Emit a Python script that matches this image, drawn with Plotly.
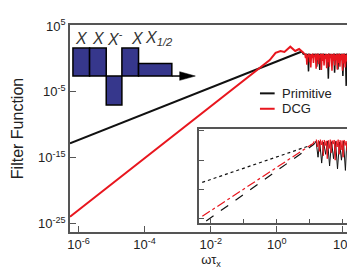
import numpy as np
import plotly.graph_objects as go

# ---------------- data (log10 exponents) ----------------
# main panel: straight power-law parts
prim_line_lx = [-6.258, 0.76]
prim_line_ly = [-12.84, 1.13]
dcg_line_lx = [-6.258, -0.213, -0.036, 0.112, 0.231, 0.409, 0.557, 0.675, 0.823]
dcg_line_ly = [-23.98, -0.18, 0.91, 1.20, 1.06, 1.86, 1.20, 1.50, 0.84]

# main panel: oscillating tails
prim_tail_lx = [0.76, 0.80, 0.88, 0.94, 0.96, 0.98, 1.06, 1.12, 1.19, 1.21, 1.23, 1.28, 1.30, 1.32,
                1.40, 1.48, 1.54, 1.56, 1.58, 1.66, 1.73, 1.75, 1.77, 1.83, 1.85, 1.87, 1.95,
                1.98, 2.00, 2.02, 2.08, 2.10, 2.12, 2.20, 2.23, 2.25, 2.27]
prim_tail_ly = [1.13, 0.75, 0.70, 0.65, -1.9, 0.70, 0.65, 0.70, 0.65, -1.2, 0.70, 0.65, -1.7, 0.70,
                0.65, 0.70, 0.65, -3.0, 0.70, 0.65, 0.70, -2.1, 0.65, 0.70, -1.6, 0.65, 0.70,
                0.65, -2.6, 0.70, 0.65, -4.1, 0.70, 0.65, 0.70, -2.1, 0.65]
dcg_tail_lx = [0.823, 0.85, 0.87, 0.89, 0.91, 0.93, 0.95, 0.97, 0.99, 1.01, 1.03, 1.05, 1.07, 1.09,
               1.11, 1.13, 1.15, 1.17, 1.19, 1.21, 1.23, 1.25, 1.27, 1.29, 1.31, 1.33, 1.35,
               1.37, 1.39, 1.41, 1.43, 1.45, 1.47, 1.49, 1.51, 1.53, 1.55, 1.57, 1.59, 1.61,
               1.63, 1.65, 1.67, 1.69, 1.71, 1.73, 1.75, 1.77, 1.79, 1.81, 1.83, 1.85, 1.87,
               1.89, 1.91, 1.93, 1.95, 1.97, 1.99, 2.01, 2.03, 2.05, 2.07, 2.09, 2.11, 2.13,
               2.15, 2.17, 2.19, 2.21, 2.23, 2.25, 2.27]
dcg_tail_ly = [0.84, 0.72, 0.10, 0.76, -0.9, 0.62, 0.30, 0.78, -0.5, 0.66, -1.3, 0.75, 0.10, 0.80,
               -0.6, 0.58, 0.35, 0.78, -1.5, 0.72, -0.2, 0.80, -0.8, 0.64, 0.20, 0.76, -1.7,
               0.74, -0.3, 0.80, -1.0, 0.60, 0.00, 0.78, -1.4, 0.70, -0.5, 0.80, -1.2, 0.65,
               0.10, 0.78, -1.8, 0.72, -0.3, 0.80, -1.0, 0.62, -0.2, 0.78, -1.6, 0.70, -0.6,
               0.80, -1.2, 0.66, -0.2, 0.78, -1.8, 0.74, -0.7, 0.80, -1.3, 0.60, -0.4, 0.78,
               -1.5, 0.72, -0.6, 0.80, -1.1, 0.68, -0.3]

# inset panel
ins_prim_lx = [-2.26, 1.05]
ins_prim_ly = [-17.6, -4.84]
ins_dcg_lx = [-2.257, 1.10, 1.15, 1.195]
ins_dcg_ly = [-29.18, -4.3, -3.3, -3.85]
ins_dcg2_lx = [-2.139, 1.136]
ins_dcg2_ly = [-30.82, -4.51]
ins_red_tail_lx = [1.195, 1.20, 1.23, 1.26, 1.29, 1.32, 1.35, 1.38, 1.41, 1.44, 1.47, 1.50, 1.53,
                   1.56, 1.59, 1.62, 1.65, 1.68, 1.71, 1.74, 1.77, 1.80, 1.83, 1.86, 1.89,
                   1.92, 1.95, 1.98, 2.01, 2.04, 2.07, 2.10, 2.13]
ins_red_tail_ly = [-3.85, -3.0, -5.5, -3.2, -7.0, -3.0, -4.8, -3.3, -8.5, -3.1, -5.0, -3.4, -9.5,
                   -3.2, -6.0, -3.0, -7.5, -3.3, -4.5, -3.1, -10.0, -3.4, -5.5, -3.0, -8.0,
                   -3.2, -6.5, -3.3, -9.0, -3.1, -5.0, -3.5, -7.0]
ins_blk_tail_lx = [1.136, 1.19, 1.25, 1.30, 1.36, 1.42, 1.48, 1.54, 1.60, 1.66, 1.72, 1.78, 1.84,
                   1.90, 1.96, 2.02, 2.08, 2.12]
ins_blk_tail_ly = [-4.51, -3.5, -9.0, -3.6, -11.0, -3.8, -8.0, -3.5, -12.0, -3.7, -9.5, -3.6, -13.0,
                   -3.8, -10.0, -3.5, -13.5, -4.0]

# tick labels
x_tick_exp = [-6, -4, -2, 0, 2]
y_tick_exp = [5, -5, -15, -25]
series_names = ["Primitive", "DCG"]

# ---------------- figure ----------------
W, H = 355, 268
L, R, T, B = 58, 346, 9, 224
BLACK = "#111111"
RED = "#e8161e"
AX = "#555555"
FONT = "Liberation Sans, Arial, sans-serif"


def p(v):
    return np.power(10.0, np.asarray(v, dtype=float))


def px(x):
    return (x - L) / (R - L)


def py(y):
    return (B - y) / (B - T)


fig = go.Figure()

# main panel
fig.add_trace(go.Scatter(x=p(prim_line_lx), y=p(prim_line_ly), mode="lines",
                         line=dict(color=BLACK, width=2), showlegend=False))
fig.add_trace(go.Scatter(x=p(prim_tail_lx), y=p(prim_tail_ly), mode="lines",
                         line=dict(color=BLACK, width=1.5), showlegend=False))
fig.add_trace(go.Scatter(x=p(dcg_line_lx), y=p(dcg_line_ly), mode="lines",
                         line=dict(color=RED, width=2), showlegend=False))
fig.add_trace(go.Scatter(x=p(dcg_tail_lx), y=p(dcg_tail_ly), mode="lines",
                         line=dict(color=RED, width=1.5), showlegend=False))

# inset panel
fig.add_trace(go.Scatter(x=p(ins_prim_lx), y=p(ins_prim_ly), mode="lines", xaxis="x2", yaxis="y2",
                         line=dict(color=BLACK, width=1.2, dash="dot"), showlegend=False))
fig.add_trace(go.Scatter(x=p(ins_dcg2_lx), y=p(ins_dcg2_ly), mode="lines", xaxis="x2", yaxis="y2",
                         line=dict(color=BLACK, width=1.2, dash="dash"), showlegend=False))
fig.add_trace(go.Scatter(x=p(ins_blk_tail_lx), y=p(ins_blk_tail_ly), mode="lines", xaxis="x2", yaxis="y2",
                         line=dict(color=BLACK, width=1), showlegend=False))
fig.add_trace(go.Scatter(x=p(ins_dcg_lx), y=p(ins_dcg_ly), mode="lines", xaxis="x2", yaxis="y2",
                         line=dict(color=RED, width=1.2, dash="dashdot"), showlegend=False))
fig.add_trace(go.Scatter(x=p(ins_red_tail_lx), y=p(ins_red_tail_ly), mode="lines", xaxis="x2", yaxis="y2",
                         line=dict(color=RED, width=1), showlegend=False))

shapes = []
annotations = []

# pulse-sequence sketch (pixel positions converted to paper coords)
PULSE_FILL = "#36378c"
bars = [(61, 78, 33, 62), (78, 95, 33, 62), (95, 111, 62, 92), (111, 128, 33, 62), (128, 162, 49, 62)]
for x0, x1, y0, y1 in bars:
    shapes.append(dict(type="rect", xref="paper", yref="paper",
                       x0=px(x0), x1=px(x1), y0=py(y1), y1=py(y0),
                       fillcolor=PULSE_FILL, line=dict(color="#000000", width=1.5), layer="above"))
shapes.append(dict(type="line", xref="paper", yref="paper", x0=px(162), x1=px(172), y0=py(62), y1=py(62),
                   line=dict(color="#000000", width=1.5)))
shapes.append(dict(type="path", xref="paper", yref="paper",
                   path=f"M {px(170)} {py(57.5)} L {px(186)} {py(62)} L {px(170)} {py(66.5)} Z",
                   fillcolor="#000000", line=dict(color="#000000", width=0.5)))

pulse_labels = [(70, "<i>X</i>"), (87, "<i>X</i>"), (104, "<i>X</i><sup>-</sup>"),
                (127, "<i>X</i>"), (149, "<i>X</i><sub><i>1/2</i></sub>")]
for xpix, txt in pulse_labels:
    annotations.append(dict(xref="paper", yref="paper", x=px(xpix), y=py(23), text=txt, showarrow=False,
                            font=dict(family=FONT, size=16, color="#333333"), xanchor="center", yanchor="middle"))

# legend drawn by hand
for ypix, name, col in [(80, series_names[0], BLACK), (96, series_names[1], RED)]:
    shapes.append(dict(type="line", xref="paper", yref="paper", x0=px(252), x1=px(267), y0=py(ypix), y1=py(ypix),
                       line=dict(color=col, width=2)))
    annotations.append(dict(xref="paper", yref="paper", x=px(272), y=py(ypix), text=name, showarrow=False,
                            font=dict(family=FONT, size=13, color="#222222"), xanchor="left", yanchor="middle"))

fig.update_layout(
    width=W, height=H,
    margin=dict(l=L, r=W - R, t=T, b=H - B),
    paper_bgcolor="white", plot_bgcolor="white",
    font=dict(family=FONT, size=13, color="#222222"),
    shapes=shapes, annotations=annotations,
    xaxis=dict(type="log", range=[-6.258, 2.276], domain=[0, 1],
               tickvals=p(x_tick_exp), ticktext=[f"10<sup>{e}</sup>" for e in x_tick_exp],
               tickfont=dict(size=13),
               ticks="inside", ticklen=6, tickwidth=1.2, tickcolor=AX,
               showline=True, linecolor=AX, linewidth=1.5, mirror=True,
               showgrid=False, zeroline=False,
               title=dict(text="ωτ<sub>x</sub>", font=dict(size=13), standoff=2)),
    yaxis=dict(type="log", range=[-26.3, 5.15], domain=[0, 1],
               tickvals=p(y_tick_exp), ticktext=[f"10<sup>{e}</sup>" for e in y_tick_exp],
               tickfont=dict(size=13),
               ticks="inside", ticklen=6, tickwidth=1.2, tickcolor=AX,
               showline=True, linecolor=AX, linewidth=1.5, mirror=True,
               showgrid=False, zeroline=False,
               title=dict(text="Filter Function", font=dict(size=16), standoff=10)),
    xaxis2=dict(type="log", range=[-2.35, 2.22], domain=[px(190), px(344)], anchor="y2",
                tickvals=p([-2, -1, 0, 1, 2]), showticklabels=False,
                ticks="inside", ticklen=5, tickwidth=1, tickcolor=AX,
                showline=True, linecolor=AX, linewidth=1.5, mirror=True,
                showgrid=False, zeroline=False),
    yaxis2=dict(type="log", range=[-31.6, 0.66], domain=[py(215), py(117)], anchor="x2",
                tickvals=p([0, -10, -20, -30]), showticklabels=False,
                ticks="inside", ticklen=5, tickwidth=1, tickcolor=AX,
                showline=True, linecolor=AX, linewidth=1.5, mirror=True,
                showgrid=False, zeroline=False),
)

fig.write_html("out.html")
